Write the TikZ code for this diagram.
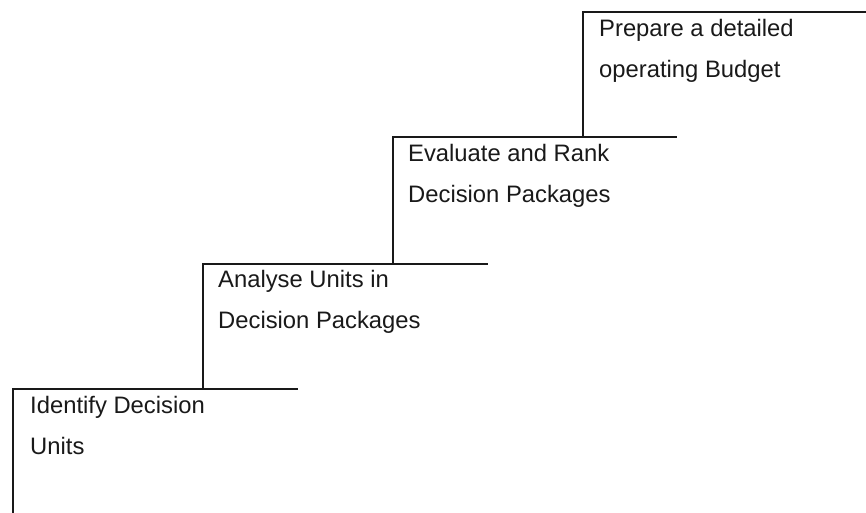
\documentclass[tikz,border=0pt]{standalone}
\usepackage{fontspec}
\setmainfont{Liberation Sans}
\begin{document}
\begin{tikzpicture}[x=1pt,y=-1pt,
  stair/.style={draw=black!90, line width=2.4pt, line cap=rect},
  steplabel/.style={anchor=base west, inner sep=0pt, align=left,
    text=black!90, font=\fontsize{23.8}{41}\selectfont}]
  \useasboundingbox (0,0) rectangle (866,512);
  % corners of the staircase
  \coordinate (b0) at (13,512);
  \coordinate (c1) at (13,389);
  \coordinate (e1) at (297,389);
  \coordinate (b1) at (203,389);
  \coordinate (c2) at (203,264);
  \coordinate (e2) at (487,264);
  \coordinate (b2) at (393,264);
  \coordinate (c3) at (393,137);
  \coordinate (e3) at (676,137);
  \coordinate (b3) at (583,137);
  \coordinate (c4) at (583,12);
  \coordinate (e4) at (866,12);
  % risers and treads
  \draw[stair] (b0) -- (c1) -- (e1);
  \draw[stair] (b1) -- (c2) -- (e2);
  \draw[stair] (b2) -- (c3) -- (e3);
  \draw[stair] (b3) -- (c4) -- (e4);
  % step labels (anchored on the baseline of their second line)
  \node[steplabel] (s1) at (30,454) {Identify Decision\\Units};
  \node[steplabel] (s2) at (218,328) {Analyse Units in\\Decision Packages};
  \node[steplabel] (s3) at (408,202) {Evaluate and Rank\\Decision Packages};
  \node[steplabel] (s4) at (599,77) {Prepare a detailed\\operating Budget};
\end{tikzpicture}
\end{document}
